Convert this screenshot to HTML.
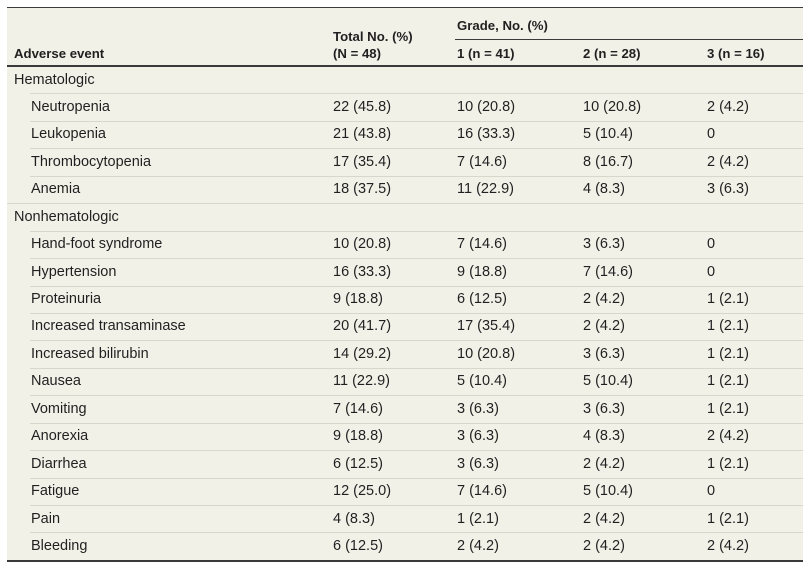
<!DOCTYPE html>
<html><head><meta charset="utf-8"><style>
html,body{margin:0;padding:0;background:#fff;}
body{width:811px;height:568px;position:relative;overflow:hidden;font-family:"Liberation Sans",sans-serif;color:#231f20;}
#t{position:absolute;left:7px;top:7px;width:796px;height:554px;background:#f2f1e8;}
.l{position:absolute;left:0;right:0;}
.r{position:absolute;left:7px;width:796px;height:27.44px;}
.r .b{position:absolute;top:0;right:0;height:1px;background:#d8d6cd;}
.c{position:absolute;top:3.5px;line-height:20px;font-size:14.5px;white-space:nowrap;}
.h{position:absolute;line-height:20px;font-size:13.2px;font-weight:bold;white-space:nowrap;}
</style></head><body>
<div id="t"></div>
<div style="position:absolute;left:7px;top:6.5px;width:796px;height:1.5px;background:#3a3a3a"></div>
<div style="position:absolute;left:455px;top:38.5px;width:348px;height:1.5px;background:#3a3a3a"></div>
<div style="position:absolute;left:7px;top:64.8px;width:796px;height:2px;background:#3a3a3a"></div>
<div style="position:absolute;left:7px;top:559.5px;width:796px;height:2px;background:#3a3a3a"></div>

<div class="h" style="left:457px;top:16px">Grade, No. (%)</div>
<div class="h" style="left:333px;top:27px">Total No. (%)</div>
<div class="h" style="left:333px;top:44px">(N = 48)</div>
<div class="h" style="left:14px;top:44px">Adverse event</div>
<div class="h" style="left:457px;top:44px">1 (n = 41)</div>
<div class="h" style="left:583px;top:44px">2 (n = 28)</div>
<div class="h" style="left:707px;top:44px">3 (n = 16)</div>

<div class="r" style="top:66px"><div class="c" style="left:7px">Hematologic</div></div>
<div class="r" style="top:93.44px"><div class="b" style="left:23px"></div><div class="c" style="left:24px">Neutropenia</div><div class="c" style="left:326px">22 (45.8)</div><div class="c" style="left:450px">10 (20.8)</div><div class="c" style="left:576px">10 (20.8)</div><div class="c" style="left:700px">2 (4.2)</div></div>
<div class="r" style="top:120.88px"><div class="b" style="left:23px"></div><div class="c" style="left:24px">Leukopenia</div><div class="c" style="left:326px">21 (43.8)</div><div class="c" style="left:450px">16 (33.3)</div><div class="c" style="left:576px">5 (10.4)</div><div class="c" style="left:700px">0</div></div>
<div class="r" style="top:148.32px"><div class="b" style="left:23px"></div><div class="c" style="left:24px">Thrombocytopenia</div><div class="c" style="left:326px">17 (35.4)</div><div class="c" style="left:450px">7 (14.6)</div><div class="c" style="left:576px">8 (16.7)</div><div class="c" style="left:700px">2 (4.2)</div></div>
<div class="r" style="top:175.76px"><div class="b" style="left:23px"></div><div class="c" style="left:24px">Anemia</div><div class="c" style="left:326px">18 (37.5)</div><div class="c" style="left:450px">11 (22.9)</div><div class="c" style="left:576px">4 (8.3)</div><div class="c" style="left:700px">3 (6.3)</div></div>
<div class="r" style="top:203.2px"><div class="b" style="left:0"></div><div class="c" style="left:7px">Nonhematologic</div></div>
<div class="r" style="top:230.64px"><div class="b" style="left:23px"></div><div class="c" style="left:24px">Hand-foot syndrome</div><div class="c" style="left:326px">10 (20.8)</div><div class="c" style="left:450px">7 (14.6)</div><div class="c" style="left:576px">3 (6.3)</div><div class="c" style="left:700px">0</div></div>
<div class="r" style="top:258.08px"><div class="b" style="left:23px"></div><div class="c" style="left:24px">Hypertension</div><div class="c" style="left:326px">16 (33.3)</div><div class="c" style="left:450px">9 (18.8)</div><div class="c" style="left:576px">7 (14.6)</div><div class="c" style="left:700px">0</div></div>
<div class="r" style="top:285.52px"><div class="b" style="left:23px"></div><div class="c" style="left:24px">Proteinuria</div><div class="c" style="left:326px">9 (18.8)</div><div class="c" style="left:450px">6 (12.5)</div><div class="c" style="left:576px">2 (4.2)</div><div class="c" style="left:700px">1 (2.1)</div></div>
<div class="r" style="top:312.96px"><div class="b" style="left:23px"></div><div class="c" style="left:24px">Increased transaminase</div><div class="c" style="left:326px">20 (41.7)</div><div class="c" style="left:450px">17 (35.4)</div><div class="c" style="left:576px">2 (4.2)</div><div class="c" style="left:700px">1 (2.1)</div></div>
<div class="r" style="top:340.4px"><div class="b" style="left:23px"></div><div class="c" style="left:24px">Increased bilirubin</div><div class="c" style="left:326px">14 (29.2)</div><div class="c" style="left:450px">10 (20.8)</div><div class="c" style="left:576px">3 (6.3)</div><div class="c" style="left:700px">1 (2.1)</div></div>
<div class="r" style="top:367.84px"><div class="b" style="left:23px"></div><div class="c" style="left:24px">Nausea</div><div class="c" style="left:326px">11 (22.9)</div><div class="c" style="left:450px">5 (10.4)</div><div class="c" style="left:576px">5 (10.4)</div><div class="c" style="left:700px">1 (2.1)</div></div>
<div class="r" style="top:395.28px"><div class="b" style="left:23px"></div><div class="c" style="left:24px">Vomiting</div><div class="c" style="left:326px">7 (14.6)</div><div class="c" style="left:450px">3 (6.3)</div><div class="c" style="left:576px">3 (6.3)</div><div class="c" style="left:700px">1 (2.1)</div></div>
<div class="r" style="top:422.72px"><div class="b" style="left:23px"></div><div class="c" style="left:24px">Anorexia</div><div class="c" style="left:326px">9 (18.8)</div><div class="c" style="left:450px">3 (6.3)</div><div class="c" style="left:576px">4 (8.3)</div><div class="c" style="left:700px">2 (4.2)</div></div>
<div class="r" style="top:450.16px"><div class="b" style="left:23px"></div><div class="c" style="left:24px">Diarrhea</div><div class="c" style="left:326px">6 (12.5)</div><div class="c" style="left:450px">3 (6.3)</div><div class="c" style="left:576px">2 (4.2)</div><div class="c" style="left:700px">1 (2.1)</div></div>
<div class="r" style="top:477.6px"><div class="b" style="left:23px"></div><div class="c" style="left:24px">Fatigue</div><div class="c" style="left:326px">12 (25.0)</div><div class="c" style="left:450px">7 (14.6)</div><div class="c" style="left:576px">5 (10.4)</div><div class="c" style="left:700px">0</div></div>
<div class="r" style="top:505.04px"><div class="b" style="left:23px"></div><div class="c" style="left:24px">Pain</div><div class="c" style="left:326px">4 (8.3)</div><div class="c" style="left:450px">1 (2.1)</div><div class="c" style="left:576px">2 (4.2)</div><div class="c" style="left:700px">1 (2.1)</div></div>
<div class="r" style="top:532.48px"><div class="b" style="left:23px"></div><div class="c" style="left:24px">Bleeding</div><div class="c" style="left:326px">6 (12.5)</div><div class="c" style="left:450px">2 (4.2)</div><div class="c" style="left:576px">2 (4.2)</div><div class="c" style="left:700px">2 (4.2)</div></div>
</body></html>
